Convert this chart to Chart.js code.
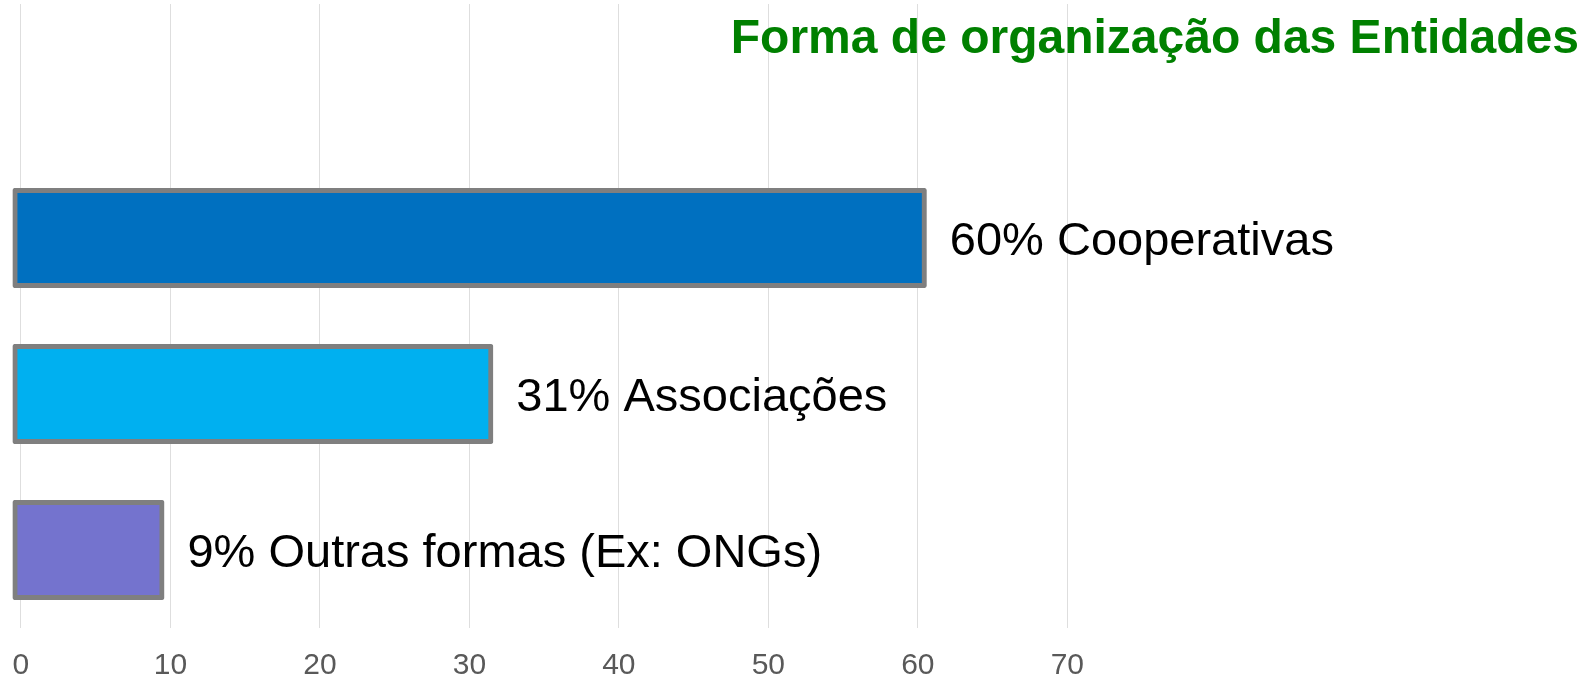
<!DOCTYPE html>
<html lang="pt">
<head>
<meta charset="utf-8">
<title>Forma de organização das Entidades</title>
<script src="https://cdn.jsdelivr.net/npm/chart.js@4.4.1/dist/chart.umd.min.js"></script>
<style>
    html, body { margin: 0; padding: 0; background: #ffffff; }
    #wrap { width: 1595px; height: 679px; position: relative; }
</style>
</head>
<body>
<div id="wrap"><canvas id="chartEntidades"></canvas></div>
<script>
// --- DADOS ---
const categorias = ['Cooperativas', 'Associações', 'Outras formas (Ex: ONGs)'];
const percentuais = [60, 31, 9];
const coresBarras = ['#0070c0', '#00b0f0', '#7473ce'];
const ticksEixo = [0, 10, 20, 30, 40, 50, 60, 70];
const titulo = 'Forma de organização das Entidades';

// primeira posicao vazia: espaco reservado para o titulo
const rotulos = [''].concat(categorias);
const valores = [null].concat(percentuais);
const cores = ['#ffffff'].concat(coresBarras);

// --- TITULO (desenhado dentro da area do grafico) ---
const tituloPlugin = {
    id: 'tituloVerde',
    afterDraw(chart) {
        const ctx = chart.ctx;
        ctx.save();
        ctx.font = 'bold 48px "Liberation Sans", Arial, sans-serif';
        ctx.fillStyle = '#008000';
        ctx.textAlign = 'right';
        ctx.textBaseline = 'alphabetic';
        ctx.fillText(titulo, chart.width - 16, 53);
        ctx.restore();
    }
};

// --- ROTULOS DAS BARRAS ---
const rotulosPlugin = {
    id: 'rotulosBarras',
    afterDatasetsDraw(chart) {
        const ctx = chart.ctx;
        const meta = chart.getDatasetMeta(0);
        ctx.save();
        ctx.font = '47px "Liberation Sans", Arial, sans-serif';
        ctx.fillStyle = '#000000';
        ctx.textAlign = 'left';
        ctx.textBaseline = 'alphabetic';
        meta.data.forEach((bar, i) => {
            const v = valores[i];
            if (v === null) return;
            ctx.fillText(v + '% ' + rotulos[i], bar.x + 32, bar.y + 17);
        });
        ctx.restore();
    }
};

const ctx = document.getElementById('chartEntidades');
new Chart(ctx, {
    type: 'bar',
    data: {
        labels: rotulos,
        datasets: [{
            data: valores,
            backgroundColor: cores,
            borderColor: '#7f7f7f',
            borderWidth: 5,
            borderRadius: 2,
            borderSkipped: false,
            inflateAmount: 9,
            barThickness: 82
        }]
    },
    options: {
        indexAxis: 'y',
        responsive: true,
        maintainAspectRatio: false,
        animation: false,
        layout: { padding: { top: 4, left: 0, right: 0, bottom: 0 } },
        plugins: {
            legend: { display: false },
            title: { display: false },
            tooltip: { enabled: false }
        },
        scales: {
            x: {
                min: -1.4,
                max: 105.3,
                afterBuildTicks: (axis) => {
                    axis.ticks = ticksEixo.map(v => ({ value: v }));
                },
                afterFit: (axis) => {
                    axis.height = 51;
                    axis.paddingLeft = 0;
                    axis.paddingRight = 0;
                },
                grid: { color: '#dedede', lineWidth: 1, drawTicks: false },
                border: { display: false },
                ticks: {
                    padding: 19.5,
                    color: '#595959',
                    font: { family: '"Liberation Sans", Arial, sans-serif', size: 30 },
                    maxRotation: 0,
                    autoSkip: false
                }
            },
            y: {
                display: false
            }
        }
    },
    plugins: [tituloPlugin, rotulosPlugin]
});
</script>
</body>
</html>
